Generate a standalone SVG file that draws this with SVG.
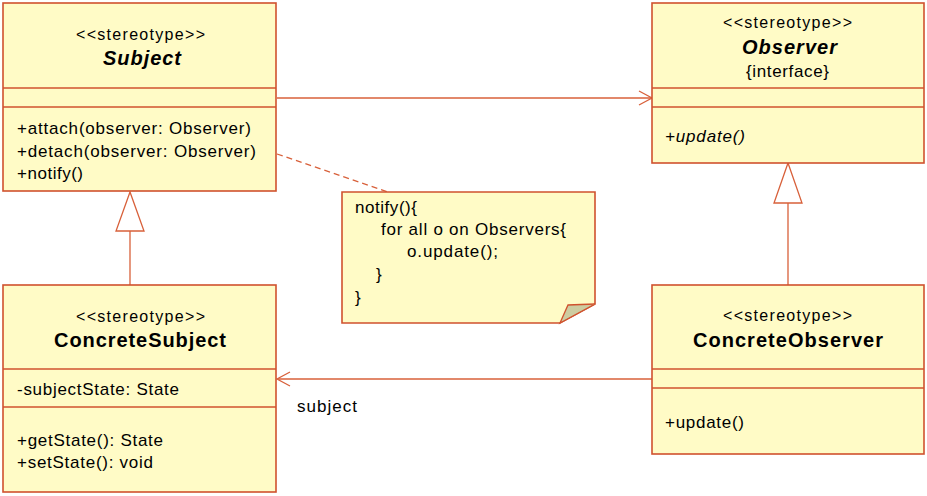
<svg xmlns="http://www.w3.org/2000/svg" width="927" height="496" viewBox="0 0 927 496">
<style>
.box{fill:#fffbc6;stroke:#d0522e;stroke-width:1.6}
.sep{stroke:#d0522e;stroke-width:1.6}
.ln{stroke:#d8603a;stroke-width:1.3;fill:none}
.tri{fill:#ffffff;stroke:#d8603a;stroke-width:1.3}
text{font-family:"Liberation Sans",Arial,sans-serif;fill:#000}
.st{font-size:16px}
.nm{font-size:20px;font-weight:bold}
.it{font-style:italic}
.tx{font-size:17px}
</style>
<rect width="927" height="496" fill="#ffffff"/>
<g id="connectors">
<line class="ln" x1="277" y1="98" x2="651" y2="98"/>
<polyline class="ln" points="639,91 652,98 639,105"/>
<line class="ln" x1="652" y1="379" x2="278" y2="379"/>
<polyline class="ln" points="290,372 277,379 290,386"/>
<line class="ln" x1="130" y1="285" x2="130" y2="231"/>
<polygon class="tri" points="130,192 116,231 144,231"/>
<line class="ln" x1="788" y1="285" x2="788" y2="203"/>
<polygon class="tri" points="788,163 774,203 802,203"/>
<line class="ln" x1="277" y1="154" x2="388" y2="192" stroke-dasharray="6,4"/>
<text class="tx" x="297" y="412" textLength="60" lengthAdjust="spacing">subject</text>
</g>
<g id="subject">
<rect class="box" x="3" y="3" width="273" height="188"/>
<line class="sep" x1="3" y1="88" x2="276" y2="88"/>
<line class="sep" x1="3" y1="107" x2="276" y2="107"/>
<text class="st" x="76" y="40" textLength="129" lengthAdjust="spacing">&lt;&lt;stereotype&gt;&gt;</text>
<text class="nm it" x="103" y="65" textLength="78" lengthAdjust="spacing">Subject</text>
<text class="tx" x="17" y="134" textLength="234" lengthAdjust="spacing">+attach(observer: Observer)</text>
<text class="tx" x="17" y="157" textLength="239" lengthAdjust="spacing">+detach(observer: Observer)</text>
<text class="tx" x="17" y="179" textLength="66" lengthAdjust="spacing">+notify()</text>
</g>
<g id="observer">
<rect class="box" x="652" y="3" width="272" height="160"/>
<line class="sep" x1="652" y1="88" x2="924" y2="88"/>
<line class="sep" x1="652" y1="107" x2="924" y2="107"/>
<text class="st" x="723" y="28" textLength="129" lengthAdjust="spacing">&lt;&lt;stereotype&gt;&gt;</text>
<text class="nm it" x="742" y="54" textLength="95" lengthAdjust="spacing">Observer</text>
<text class="tx" x="746" y="77" textLength="83" lengthAdjust="spacing">{interface}</text>
<text class="tx it" x="665" y="142" textLength="80" lengthAdjust="spacing">+update()</text>
</g>
<g id="note">
<polygon class="box" points="342,192 595,192 595,304 560,323 342,323"/>
<polygon points="595,304 568,305 560,323" fill="#cdcca1" stroke="#d0522e" stroke-width="1.3"/>
<text class="tx" x="355" y="213" textLength="62" lengthAdjust="spacing">notify(){</text>
<text class="tx" x="381" y="235" textLength="185" lengthAdjust="spacing">for all o on Observers{</text>
<text class="tx" x="407" y="257" textLength="91" lengthAdjust="spacing">o.update();</text>
<text class="tx" x="376" y="280">}</text>
<text class="tx" x="355" y="303">}</text>
</g>
<g id="concreteSubject">
<rect class="box" x="3" y="285" width="273" height="207"/>
<line class="sep" x1="3" y1="369" x2="276" y2="369"/>
<line class="sep" x1="3" y1="407" x2="276" y2="407"/>
<text class="st" x="76" y="322" textLength="129" lengthAdjust="spacing">&lt;&lt;stereotype&gt;&gt;</text>
<text class="nm" x="54" y="347" textLength="172" lengthAdjust="spacing">ConcreteSubject</text>
<text class="tx" x="17" y="395" textLength="162" lengthAdjust="spacing">-subjectState: State</text>
<text class="tx" x="17" y="446" textLength="146" lengthAdjust="spacing">+getState(): State</text>
<text class="tx" x="17" y="468" textLength="136" lengthAdjust="spacing">+setState(): void</text>
</g>
<g id="concreteObserver">
<rect class="box" x="652" y="285" width="272" height="169"/>
<line class="sep" x1="652" y1="369" x2="924" y2="369"/>
<line class="sep" x1="652" y1="388" x2="924" y2="388"/>
<text class="st" x="723" y="321" textLength="129" lengthAdjust="spacing">&lt;&lt;stereotype&gt;&gt;</text>
<text class="nm" x="693" y="347" textLength="190" lengthAdjust="spacing">ConcreteObserver</text>
<text class="tx" x="665" y="428" textLength="79" lengthAdjust="spacing">+update()</text>
</g>
</svg>
